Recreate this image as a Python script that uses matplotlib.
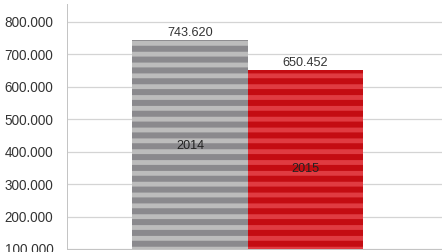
import matplotlib
matplotlib.use("Agg")
import matplotlib.pyplot as plt
from matplotlib.ticker import FuncFormatter

years = ["2014", "2015"]
values = [743620, 650452]
value_labels = ["743.620", "650.452"]
yticks = [100000, 200000, 300000, 400000, 500000, 600000, 700000, 800000]

face_colors = ["#bcbcbc", "#e03b41"]
stripe_colors = ["#8a898d", "#c40c12"]

DPI = 65
plt.rcParams["font.family"] = ["Liberation Sans", "DejaVu Sans"]
plt.rcParams["hatch.linewidth"] = 6 * 72 / DPI

fig = plt.figure(figsize=(442 / DPI, 252 / DPI), dpi=DPI)
ax = fig.add_axes([67 / 442, 3 / 252, 375 / 442, 245 / 252])

x = list(range(len(years)))
for xi, v, fc, sc in zip(x, values, face_colors, stripe_colors):
    ax.bar(xi, v, width=1.0, bottom=0, color=fc, edgecolor=sc,
           linewidth=0, hatch="-", zorder=2)

for xi, v, lab in zip(x, values, value_labels):
    ax.annotate(lab, (xi, v), xytext=(0, 1), textcoords="offset pixels",
                ha="center", va="bottom", fontsize=14, color="#333333")

cat_y = [418000, 347000]
for xi, yv, yr in zip(x, cat_y, years):
    ax.text(xi, yv, yr, ha="center", va="center", fontsize=14, color="#222222", zorder=3)

ax.set_xlim(-1.065, 2.18)
ax.set_ylim(100000, 855000)
ax.set_yticks(yticks)
ax.yaxis.set_major_formatter(FuncFormatter(lambda v, p: f"{int(v):,}".replace(",", ".")))
ax.set_xticks([])
ax.tick_params(axis="y", length=0, pad=15, labelsize=15, labelcolor="#333333")
ax.grid(axis="y", color="#d4d4d4", linewidth=1.4, zorder=0)
ax.set_axisbelow(True)
for s in ["top", "right"]:
    ax.spines[s].set_visible(False)
for s in ["left", "bottom"]:
    ax.spines[s].set_color("#c4c4c4")
    ax.spines[s].set_linewidth(1.1)

fig.savefig("out.png", dpi=DPI)
